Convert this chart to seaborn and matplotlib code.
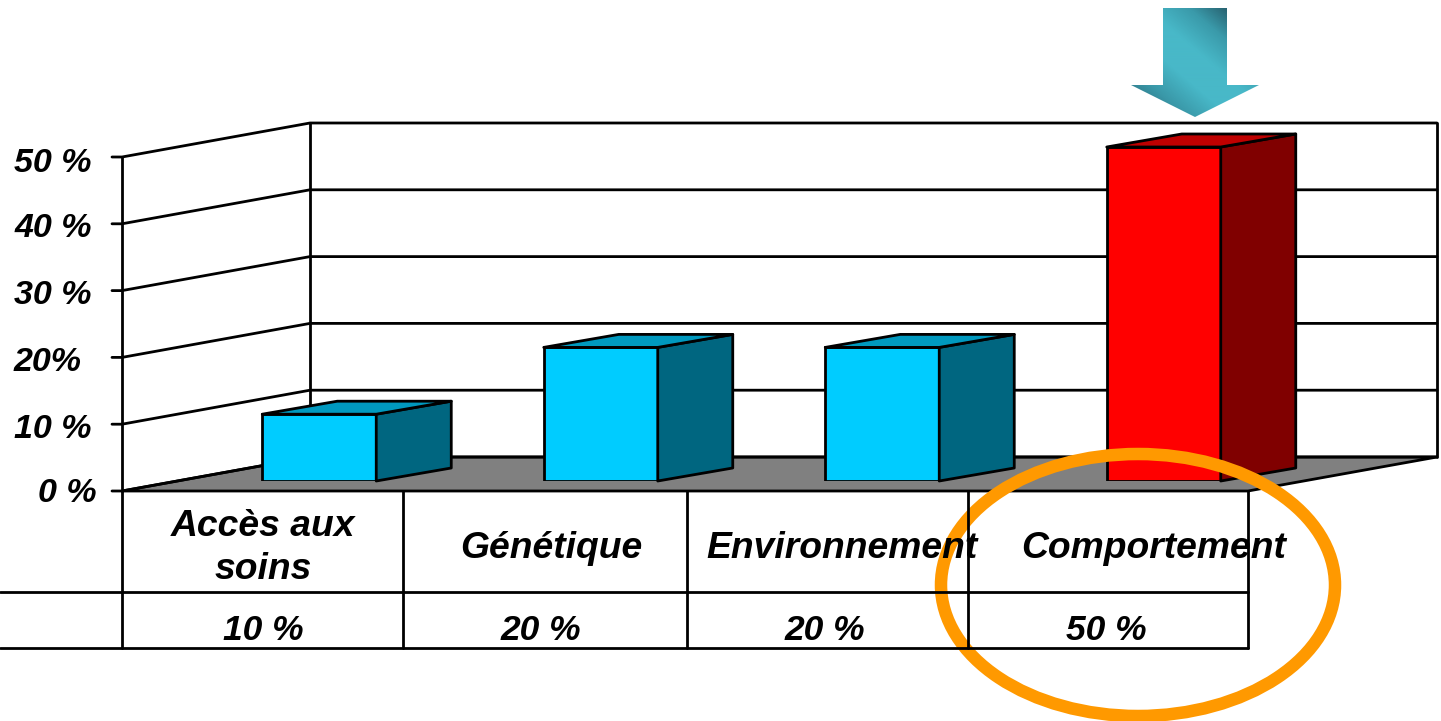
import numpy as np
import pandas as pd
import seaborn as sns
import matplotlib.pyplot as plt
from matplotlib.colors import LinearSegmentedColormap
from matplotlib.patches import Ellipse, Polygon

# Chart values
categories = ["Accès aux soins", "Génétique", "Environnement", "Comportement"]
values = [10, 20, 20, 50]
table_labels = ["Accès aux\nsoins", "Génétique", "Environnement", "Comportement"]
table_values = ["10 %", "20 %", "20 %", "50 %"]
y_ticks = [0, 10, 20, 30, 40, 50]
y_tick_labels = ["0 %", "10 %", "20%", "30 %", "40 %", "50 %"]

# Colours: front, side and top of each box
front_colors = ["#00CCFF", "#00CCFF", "#00CCFF", "#FF0000"]
side_colors = ["#006680", "#006680", "#006680", "#800000"]
top_colors = ["#0099BF", "#0099BF", "#0099BF", "#BF0000"]

W, H = 1441, 721
LW = 2.0
BOLD = dict(family="Liberation Sans", weight="bold", style="italic", color="black")

sns.set_theme(style="white")
df = pd.DataFrame({"category": categories, "value": values})

fig = plt.figure(figsize=(W / 100, H / 100), dpi=100, facecolor="white")


# Pixel canvas for the walls and the table, one behind and one on top of the bars
def pixel_axes(z):
    a = fig.add_axes([0, 0, 1, 1], zorder=z)
    a.set_xlim(0, W)
    a.set_ylim(H, 0)
    a.axis("off")
    return a


back = pixel_axes(0)
front = pixel_axes(2)

PX_PER_UNIT = 6.68
FLOOR_FRONT = 491
FLOOR_BACK = 457
X_FRONT, X_BACK, X_END, X_TABLE = 122, 310, 1437, 1248

# Floor, walls and gridlines
back.add_patch(Polygon([(X_FRONT, FLOOR_FRONT), (X_BACK, FLOOR_BACK), (X_END, FLOOR_BACK),
                        (X_TABLE, FLOOR_FRONT)], facecolor="#808080", edgecolor="black", lw=LW))
for v in y_ticks:
    yf = FLOOR_FRONT - PX_PER_UNIT * v
    yb = FLOOR_BACK - PX_PER_UNIT * v
    back.plot([112, X_FRONT, X_BACK, X_END], [yf, yf, yb, yb], color="black", lw=LW)
top_back = FLOOR_BACK - PX_PER_UNIT * 50
back.plot([X_FRONT, X_FRONT], [FLOOR_FRONT, FLOOR_FRONT - PX_PER_UNIT * 50], color="black", lw=LW)
back.plot([X_BACK, X_BACK], [FLOOR_BACK, top_back], color="black", lw=LW)
back.plot([X_END, X_END], [FLOOR_BACK, top_back], color="black", lw=LW)

# Y labels
label_right = [97, 92, 82, 92, 92, 92]
label_dy = [3, 5, 5, 5, 5, 7]
for v, lab, xr, dy in zip(y_ticks, y_tick_labels, label_right, label_dy):
    back.text(xr, FLOOR_FRONT - PX_PER_UNIT * v + dy, lab, ha="right", va="center", fontsize=24.5, **BOLD)

# Bars, with the 3D sides built on the seaborn rectangles
bar_ax = fig.add_axes([178.5 / W, (H - 481) / H, 1126 / W, 334 / H], zorder=1)
bar_ax.patch.set_alpha(0)
sns.barplot(data=df, x="category", y="value", hue="category", palette=front_colors, legend=False,
            width=0.405, edgecolor="black", linewidth=LW, saturation=1, ax=bar_ax)
bar_ax.set_xlim(-0.5, 3.5)
bar_ax.set_ylim(0, 50)
bar_ax.axis("off")

DX = 75 / 281.5
DY = 13 / PX_PER_UNIT
for bar, side, top in zip(bar_ax.patches, side_colors, top_colors):
    x0, x1 = bar.get_x(), bar.get_x() + bar.get_width()
    h = bar.get_height()
    bar_ax.add_patch(Polygon([(x1, 0), (x1 + DX, DY), (x1 + DX, h + DY), (x1, h)], facecolor=side,
                             edgecolor="black", lw=LW, clip_on=False, joinstyle="round"))
    bar_ax.add_patch(Polygon([(x0, h), (x0 + DX, h + DY), (x1 + DX, h + DY), (x1, h)], facecolor=top,
                             edgecolor="black", lw=LW, clip_on=False, joinstyle="round"))

# Data table under the chart
cell_edges = [122, 403, 687, 968, 1248]
label_x = [263, 551, 842, 1154]
label_y = [548, 548, 548, 548]
value_x = [263, 541, 825, 1106]
for x in cell_edges:
    front.plot([x, x], [FLOOR_FRONT, 648], color="black", lw=LW)
front.plot([0, 1248], [592, 592], color="black", lw=LW)
front.plot([0, 1248], [648, 648], color="black", lw=LW)
for lab, xl, yl, val, xv in zip(table_labels, label_x, label_y, table_values, value_x):
    front.text(xl, yl, lab, ha="center", va="center", fontsize=26.8, linespacing=1.3, **BOLD)
    front.text(xv, 630, val, ha="center", va="center", fontsize=25.5, **BOLD)

# Highlight ellipse
front.add_patch(Ellipse((1138, 585), 394, 262, facecolor="none", edgecolor="#FF9900", lw=9, clip_on=False))

# Arrow with a diagonal sheen
arrow = Polygon([(1163, 8), (1227, 8), (1227, 85), (1259, 85), (1195, 117), (1131, 85), (1163, 85)],
                closed=True, transform=front.transData, facecolor="none", edgecolor="none")
front.add_patch(arrow)
xx, yy = np.meshgrid(np.linspace(0, 1, 128), np.linspace(0, 1, 110))
sheen = LinearSegmentedColormap.from_list(
    "sheen", ["#255A68", "#3A9AAA", "#48B8C8", "#48B8C8", "#3A98A8", "#2A6C7C"])
img = front.imshow((yy - xx + 1) / 2, extent=(1131, 1259, 117, 8), cmap=sheen,
                   aspect="auto", interpolation="bilinear", vmin=0.1, vmax=0.95)
img.set_clip_path(arrow)
front.set_xlim(0, W)
front.set_ylim(H, 0)

fig.savefig("out.png", dpi=100)
